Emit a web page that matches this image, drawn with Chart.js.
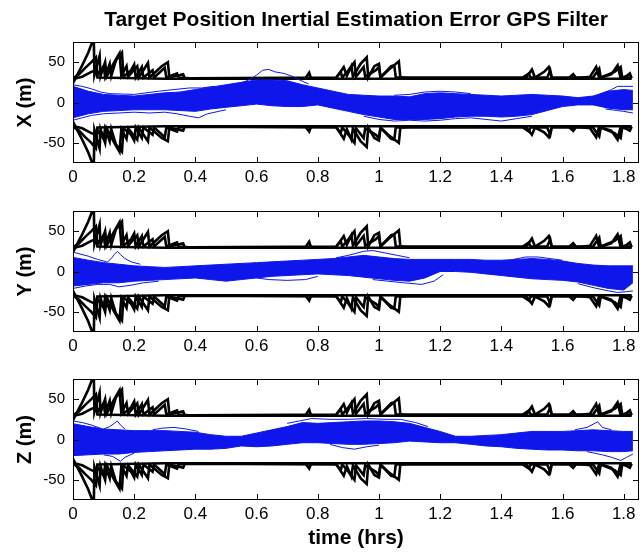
<!DOCTYPE html>
<html>
<head>
<meta charset="utf-8">
<title>Target Position Inertial Estimation Error GPS Filter</title>
<script src="https://cdn.jsdelivr.net/npm/chart.js@4.4.1/dist/chart.umd.min.js"></script>
<style>
  html, body { margin: 0; padding: 0; background: #fff; }
  #wrap { position: relative; width: 643px; height: 552px; }
  #wrap canvas { position: absolute; left: 0; top: 0; }
</style>
</head>
<body>
<div id="wrap">
  <canvas id="plotX" width="643" height="552"></canvas>
  <canvas id="plotY" width="643" height="552"></canvas>
  <canvas id="plotZ" width="643" height="552"></canvas>
</div>
<script>
// axis ticks
const xTicks = [0, 0.2, 0.4, 0.6, 0.8, 1, 1.2, 1.4, 1.6, 1.8];
const xTickLabels = ['0', '0.2', '0.4', '0.6', '0.8', '1', '1.2', '1.4', '1.6', '1.8'];
const yTicks = [-50, 0, 50];
const yTickLabels = ['-50', '0', '50'];

// times (hrs) at which the edges of the blue Monte Carlo band were read
const bandT = [0, 0.05, 0.1, 0.15, 0.2, 0.25, 0.3, 0.35, 0.4, 0.45, 0.5, 0.55, 0.6, 0.65, 0.7, 0.75, 0.8, 0.85, 0.9, 0.95,
  1.0, 1.05, 1.1, 1.15, 1.2, 1.25, 1.3, 1.35, 1.4, 1.45, 1.5, 1.55, 1.6, 1.65, 1.7, 1.75, 1.8, 1.83];

// band edges (m)
const xHi = [20, 14, 10, 9, 8, 10, 12, 13, 16, 19, 22, 25, 28, 28, 27, 22, 18, 14, 10, 9, 8, 8, 7, 11, 12, 11, 10, 9, 8, 9, 10, 9, 8, 6, 8, 14, 16, 15];
const xLo = [-19, -14, -11, -10, -9, -9, -9, -10, -11, -8, -6, -4, -2, -4, -5, -5, -3, -7, -11, -15, -18, -21, -21, -21, -20, -18, -17, -17, -18, -17, -15, -10, -5, -3, -3, -7, -9, -9];
const yHi = [17.5, 14, 11, 9, 7, 6, 5, 6, 7, 8, 9, 10, 11, 12, 13, 14, 15, 16, 18, 20, 18, 16, 15, 15, 15, 15, 15, 14, 14, 15, 16, 15, 13, 10, 8, 7, 7, 7];
const yLo = [-18, -16, -14, -14, -12, -11, -10, -9, -8, -10, -12, -10, -8, -6, -5, -4, -3, -4, -5, -7, -9, -11, -12, -8, 0, 0, -1, -3, -5, -7, -9, -10, -11, -13, -17, -21, -23, -14];
const zHi = [19.6, 16, 13, 12, 11, 11, 11, 10, 9, 6, 4, 4, 8, 12, 16, 21, 20, 21, 22, 23, 23, 22, 20, 15, 10, 4, 4, 5, 6, 8, 10, 10, 10, 11, 12, 11, 10, 10];
const zLo = [-20, -19, -18, -18, -16, -15, -14, -13, -12, -12, -11, -8, -9, -8, -6, -4, -4, -5, -6, -6, -5, -4, -2, -3, -4, -4, -6, -8, -9, -11, -12, -13, -13, -14, -14, -15, -15, -14];

// single runs that stick out of the band, [time, error]
const xRuns = [
  [[0.55, 24], [0.58, 29], [0.6, 34], [0.62, 40], [0.64, 41], [0.66, 38], [0.69, 36], [0.72, 32], [0.74, 28], [0.77, 23]],
  [[0, -22], [0.03, -19], [0.06, -16], [0.1, -14], [0.15, -13], [0.2, -12], [0.25, -13], [0.3, -12], [0.34, -14], [0.38, -17], [0.41, -19], [0.44, -14], [0.5, -9]],
  [[0, 22], [0.03, 20], [0.06, 17], [0.09, 13], [0.12, 11], [0.2, 10], [0.28, 14], [0.33, 16], [0.38, 18], [0.42, 18], [0.46, 20]],
  [[0.95, -17], [1.0, -21], [1.05, -23], [1.1, -22], [1.15, -23], [1.2, -22], [1.25, -20], [1.3, -19], [1.35, -21], [1.4, -23], [1.45, -20], [1.5, -17]],
  [[1.05, 9], [1.1, 10], [1.15, 13], [1.2, 14], [1.25, 13], [1.3, 11]],
  [[1.72, 10], [1.76, 16], [1.78, 20], [1.8, 20], [1.83, 20]],
  [[1.74, -8], [1.78, -10], [1.8, -11], [1.83, -13]]
];
const yRuns = [
  [[0.11, 11], [0.125, 16], [0.135, 21], [0.145, 25], [0.155, 21], [0.17, 16], [0.19, 12], [0.22, 9]],
  [[0, 24], [0.02, 22], [0.05, 19], [0.08, 15], [0.11, 12]],
  [[0, -21], [0.04, -18], [0.08, -16], [0.12, -16], [0.15, -19], [0.19, -17], [0.23, -14], [0.28, -12]],
  [[0.86, 17], [0.9, 20], [0.95, 25], [0.98, 26], [1.02, 23], [1.06, 20], [1.1, 17]],
  [[0.6, -8], [0.64, -10], [0.7, -11], [0.76, -10], [0.8, -6]],
  [[0.98, -10], [1.03, -12], [1.08, -14], [1.14, -16], [1.18, -12], [1.21, -4]],
  [[1.44, 15], [1.48, 18], [1.52, 18], [1.56, 16], [1.6, 14]],
  [[1.65, -15], [1.7, -20], [1.75, -24], [1.78, -26], [1.81, -25], [1.83, -24]]
];
const zRuns = [
  [[0.1, 13], [0.12, 16], [0.135, 20], [0.145, 23], [0.155, 18], [0.17, 13]],
  [[0.1, -19], [0.13, -21], [0.155, -27], [0.17, -22], [0.2, -17]],
  [[0, 23], [0.03, 21], [0.06, 18], [0.09, 14]],
  [[0.26, 12], [0.29, 14], [0.33, 15], [0.37, 13], [0.41, 10]],
  [[0.7, 20], [0.74, 23], [0.78, 26], [0.84, 25], [0.9, 25], [0.96, 26], [1.02, 25], [1.07, 25], [1.12, 21], [1.16, 16]],
  [[0.84, -6], [0.88, -10], [0.92, -12], [0.96, -9], [1.0, -7]],
  [[1.64, 12], [1.68, 15], [1.7, 19], [1.715, 22], [1.73, 15], [1.76, 12]],
  [[1.68, -15], [1.73, -19], [1.76, -22], [1.79, -26], [1.81, -22], [1.83, -18]]
];

// 3-sigma covariance bounds, same in all three axes, [time, bound]
const boundUpA = [[0, 24], [0.03, 46], [0.05, 62], [0.068, 80], [0.07, 34], [0.087, 58], [0.09, 33], [0.105, 50], [0.11, 32], [0.135, 50], [0.152, 61], [0.158, 33],
  [0.175, 45], [0.18, 32], [0.21, 45], [0.215, 31], [0.245, 49], [0.25, 31], [0.29, 45], [0.31, 50], [0.315, 31], [0.35, 34], [0.36, 35], [0.365, 30],
  [0.76, 30], [0.772, 37], [0.778, 30], [0.86, 30], [0.885, 44], [0.895, 33], [0.91, 45], [0.915, 32], [0.94, 48], [0.96, 56], [0.965, 31], [0.985, 45],
  [1.0, 48], [1.005, 31], [1.03, 40], [1.065, 51], [1.07, 31], [1.1, 30], [1.48, 30], [1.5, 41], [1.51, 31], [1.54, 38], [1.555, 44], [1.565, 30],
  [1.62, 30], [1.635, 35], [1.645, 30], [1.69, 32], [1.71, 44], [1.72, 30], [1.76, 35], [1.78, 46], [1.79, 30], [1.81, 33], [1.82, 36], [1.826, 30]];
const boundUpB = [[0, 30], [0.02, 35], [0.04, 43], [0.06, 50], [0.075, 56], [0.08, 34], [0.1, 45], [0.105, 32], [0.12, 48], [0.125, 33], [0.14, 52], [0.16, 62],
  [0.165, 32], [0.19, 40], [0.2, 47], [0.205, 31], [0.225, 44], [0.23, 31], [0.26, 40], [0.265, 31], [0.3, 43], [0.305, 31], [0.34, 36], [0.345, 31],
  [0.38, 30], [0.86, 31], [0.875, 38], [0.88, 31], [0.9, 40], [0.92, 50], [0.925, 32], [0.95, 44], [0.955, 32], [0.99, 40], [1.0, 44], [1.005, 31],
  [1.04, 45], [1.05, 46], [1.055, 31], [1.09, 31], [1.47, 31], [1.49, 36], [1.495, 31], [1.55, 31], [1.56, 40], [1.565, 31], [1.7, 31], [1.72, 42],
  [1.725, 31], [1.77, 38], [1.79, 44], [1.795, 31], [1.826, 31]];
const boundUpC = [[0, 29], [0.03, 32], [0.06, 38], [0.075, 40], [0.08, 31], [0.3, 29.5], [1.826, 29.5]];
const boundLoA = [[0, -24], [0.03, -46], [0.05, -62], [0.068, -80], [0.07, -34], [0.087, -57], [0.09, -33], [0.105, -50], [0.11, -32], [0.135, -50], [0.152, -61], [0.158, -33],
  [0.175, -45], [0.18, -32], [0.21, -46], [0.215, -31], [0.245, -48], [0.25, -31], [0.29, -44], [0.31, -48], [0.315, -31], [0.35, -34], [0.36, -35], [0.365, -30],
  [0.76, -30], [0.772, -36], [0.778, -30], [0.86, -30], [0.885, -45], [0.895, -33], [0.91, -46], [0.915, -32], [0.94, -48], [0.96, -55], [0.965, -31], [0.985, -44],
  [1.0, -47], [1.005, -31], [1.03, -40], [1.065, -50], [1.07, -31], [1.1, -30], [1.48, -30], [1.5, -40], [1.51, -31], [1.54, -37], [1.555, -43], [1.565, -30],
  [1.62, -30], [1.635, -35], [1.645, -30], [1.69, -32], [1.71, -43], [1.72, -30], [1.76, -35], [1.78, -46], [1.79, -30], [1.81, -33], [1.82, -35], [1.826, -30]];
const boundLoB = [[0, -30], [0.02, -35], [0.04, -43], [0.06, -50], [0.075, -57], [0.08, -34], [0.1, -45], [0.105, -32], [0.12, -48], [0.125, -33], [0.14, -52], [0.16, -61],
  [0.165, -32], [0.19, -40], [0.2, -47], [0.205, -31], [0.225, -44], [0.23, -31], [0.26, -40], [0.265, -31], [0.3, -43], [0.305, -31], [0.34, -36], [0.345, -31],
  [0.38, -30], [0.86, -31], [0.875, -38], [0.88, -31], [0.9, -40], [0.92, -50], [0.925, -32], [0.95, -44], [0.955, -32], [0.99, -40], [1.0, -44], [1.005, -31],
  [1.04, -45], [1.05, -46], [1.055, -31], [1.09, -31], [1.47, -31], [1.49, -36], [1.495, -31], [1.55, -31], [1.56, -40], [1.565, -31], [1.7, -31], [1.72, -42],
  [1.725, -31], [1.77, -38], [1.79, -44], [1.795, -31], [1.826, -31]];
const boundLoC = [[0, -29], [0.03, -32], [0.06, -38], [0.075, -40], [0.08, -31], [0.3, -29.5], [1.826, -29.5]];

const bounds = [boundUpA, boundUpB, boundUpC, boundLoA, boundLoB, boundLoC];
const blue = 'rgb(14, 22, 236)';

Chart.defaults.font.family = '"Liberation Sans", Arial, Helvetica, sans-serif';
Chart.defaults.color = '#000';

// MATLAB style box with inward tick marks on all four sides
const boxTicks = {
  id: 'boxTicks',
  afterDatasetsDraw(chart) {
    const { ctx, chartArea: a, scales: { x, y } } = chart;
    ctx.save();
    ctx.strokeStyle = '#000';
    ctx.lineWidth = 1;
    ctx.strokeRect(a.left + 0.5, a.top + 0.5, a.right - a.left - 1, a.bottom - a.top - 1);
    ctx.beginPath();
    x.ticks.forEach((t) => {
      const px = Math.round(x.getPixelForValue(t.value)) + 0.5;
      ctx.moveTo(px, a.bottom); ctx.lineTo(px, a.bottom - 6);
      ctx.moveTo(px, a.top); ctx.lineTo(px, a.top + 6);
    });
    y.ticks.forEach((t) => {
      const py = Math.round(y.getPixelForValue(t.value)) + 0.5;
      ctx.moveTo(a.left, py); ctx.lineTo(a.left + 6, py);
      ctx.moveTo(a.right, py); ctx.lineTo(a.right - 6, py);
    });
    ctx.stroke();
    ctx.restore();
  }
};

function toXY(ts, vs) { return ts.map((t, i) => ({ x: t, y: vs[i] })); }
function fromPairs(p) { return p.map(([t, v]) => ({ x: t, y: v })); }

function createPanel(id, hi, lo, runs, yName, pad, withTitle, withXLabel) {
  const datasets = [
    { data: toXY(bandT, hi), borderColor: blue, borderWidth: 1, fill: false },
    { data: toXY(bandT, lo), borderColor: blue, borderWidth: 1, backgroundColor: blue, fill: '-1' }
  ];
  runs.forEach((r) => datasets.push({ data: fromPairs(r), borderColor: blue, borderWidth: 1, fill: false }));
  bounds.forEach((b) => datasets.push({ data: fromPairs(b), borderColor: '#000', borderWidth: 2.6, fill: false, clip: 0 }));

  const scales = {
    x: {
      type: 'linear',
      min: 0,
      max: 1.85,
      afterBuildTicks: (s) => { s.ticks = xTicks.map((v) => ({ value: v })); },
      afterFit: (s) => { s.height = withXLabel ? 52 : 30; },
      grid: { display: false, drawTicks: false },
      border: { display: false },
      ticks: { padding: 4, font: { size: 17 }, callback: (v, i) => xTickLabels[i] },
      title: { display: withXLabel, text: 'time (hrs)', font: { size: 21, weight: 'bold' }, padding: { top: 0, bottom: 1 } }
    },
    y: {
      min: -75,
      max: 75,
      afterBuildTicks: (s) => { s.ticks = yTicks.map((v) => ({ value: v })); },
      afterFit: (s) => { s.width = 73; },
      grid: { display: false, drawTicks: false },
      border: { display: false },
      ticks: { padding: 8, font: { size: 15 }, callback: (v, i) => yTickLabels[i] },
      title: { display: true, text: yName, font: { size: 20, weight: 'bold' }, padding: { top: 13, bottom: 0 } }
    }
  };
  if (withTitle) {
    // empty top axis, only used to centre the figure title over the axes box
    scales.top = {
      type: 'linear',
      position: 'top',
      min: 0,
      max: 1.85,
      afterFit: (s) => { s.height = 42; },
      grid: { display: false, drawTicks: false },
      border: { display: false },
      ticks: { display: false },
      title: {
        display: true,
        text: 'Target Position Inertial Estimation Error GPS Filter',
        font: { size: 21, weight: 'bold' },
        padding: { top: 8, bottom: 0 }
      }
    };
  }

  new Chart(document.getElementById(id), {
    type: 'line',
    data: { datasets: datasets },
    options: {
      responsive: false,
      animation: false,
      devicePixelRatio: 1,
      layout: { padding: { left: 0, right: 4, top: pad.top, bottom: pad.bottom } },
      elements: { point: { radius: 0 }, line: { tension: 0 } },
      scales: scales,
      plugins: {
        legend: { display: false },
        tooltip: { enabled: false }
      }
    },
    plugins: [boxTicks]
  });
}

createPanel('plotX', xHi, xLo, xRuns, 'X (m)', { top: 0, bottom: 359 }, true, false);
createPanel('plotY', yHi, yLo, yRuns, 'Y (m)', { top: 211, bottom: 190 }, false, false);
createPanel('plotZ', zHi, zLo, zRuns, 'Z (m)', { top: 379, bottom: 0 }, false, true);
</script>
</body>
</html>
